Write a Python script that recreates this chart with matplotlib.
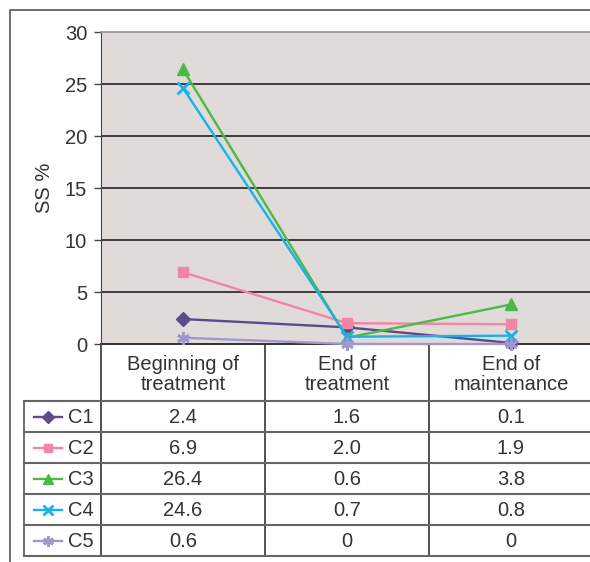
import matplotlib
matplotlib.use("Agg")
import matplotlib.pyplot as plt

plt.rcParams['font.family'] = ['Liberation Sans', 'DejaVu Sans']

# data
stages = ["Beginning of\ntreatment", "End of\ntreatment", "End of\nmaintenance"]
groups = ["C1", "C2", "C3", "C4", "C5"]
c1 = [2.4, 1.6, 0.1]
c2 = [6.9, 2.0, 1.9]
c3 = [26.4, 0.6, 3.8]
c4 = [24.6, 0.7, 0.8]
c5 = [0.6, 0, 0]
table_text = [["2.4", "1.6", "0.1"],
              ["6.9", "2.0", "1.9"],
              ["26.4", "0.6", "3.8"],
              ["24.6", "0.7", "0.8"],
              ["0.6", "0", "0"]]
yticks = [0, 5, 10, 15, 20, 25, 30]

series = [c1, c2, c3, c4, c5]
colors = ["#5c4a8c", "#f285a5", "#4cb848", "#18b2ea", "#9e98cf"]
markers = ["D", "s", "^", "x", (6, 2, 0)]
msizes = [7, 7, 9, 8, 9]
fs = 14.5

W, H = 590, 562
fig = plt.figure(figsize=(W / 100, H / 100), dpi=100)

# plot area in pixels
left, right, top, bottom = 101, 593, 32, 344
ax = fig.add_axes([left / W, 1 - bottom / H, (right - left) / W, (bottom - top) / H])
ax.set_facecolor("#e0dbd9")
ax.set_xlim(-0.5, 2.5)
ax.set_ylim(0, 30)
ax.set_yticks(yticks)
ax.set_xticks([])
ax.tick_params(axis='y', length=5, width=1, color="#444", labelsize=fs, labelcolor="#333", pad=5)
for y in yticks[1:-1]:
    ax.axhline(y, color="#222", lw=1.2, zorder=1)
for s in ["right", "bottom"]:
    ax.spines[s].set_visible(False)
ax.spines["top"].set_color("#999")
ax.spines["top"].set_linewidth(1.3)
ax.spines["left"].set_color("#444")
ax.axhline(0, color="#222", lw=1.3, zorder=1, clip_on=False)
ax.set_ylabel("SS %", fontsize=fs, color="#333", labelpad=8)

x = list(range(len(stages)))
for vals, col, mk, ms in zip(series, colors, markers, msizes):
    ax.plot(x, vals, color=col, lw=1.7, marker=mk, markersize=ms,
            markeredgewidth=2 if mk in ("x", (6, 2, 0)) else 1,
            markeredgecolor=col, clip_on=False, zorder=3)

# table overlay in pixel coordinates
ov = fig.add_axes([0, 0, 1, 1], zorder=-1)
ov.set_xlim(0, W)
ov.set_ylim(H, 0)
ov.axis("off")

# outer frame
ov.plot([10, 10, W], [H, 10, 10], color="#555", lw=1.2)

col_w = (right - left) / 3
col_edges = [left + i * col_w for i in range(4)]
row_h = 31
row_top = 401
row_lines = [row_top + i * row_h for i in range(6)]
tbl_left = 24

for ex in col_edges[:3]:
    ov.plot([ex, ex], [bottom, row_lines[-1]], color="#222", lw=1.1)
ov.plot([tbl_left, tbl_left], [row_top, row_lines[-1]], color="#555", lw=1.2)
for ry in row_lines:
    ov.plot([tbl_left, W], [ry, ry], color="#666", lw=1.5)

for i, st in enumerate(stages):
    ov.text(left + col_w * (i + 0.5), (bottom + row_top) / 2 + 2, st, ha="center", va="center",
            fontsize=fs, color="#333", linespacing=1.1)

for r, (g, col, mk, ms) in enumerate(zip(groups, colors, markers, msizes)):
    cy = row_top + row_h * (r + 0.5)
    ov.plot([34, 62], [cy, cy], color=col, lw=1.7)
    ov.plot([48], [cy], color=col, marker=mk, markersize=ms * 0.85,
            markeredgewidth=2 if mk in ("x", (6, 2, 0)) else 1, markeredgecolor=col)
    ov.text(68, cy + 1, g, ha="left", va="center", fontsize=fs, color="#333")
    for c in range(3):
        ov.text(left + col_w * (c + 0.5), cy + 1, table_text[r][c], ha="center", va="center",
                fontsize=fs, color="#333")

fig.savefig("out.png", dpi=100)
